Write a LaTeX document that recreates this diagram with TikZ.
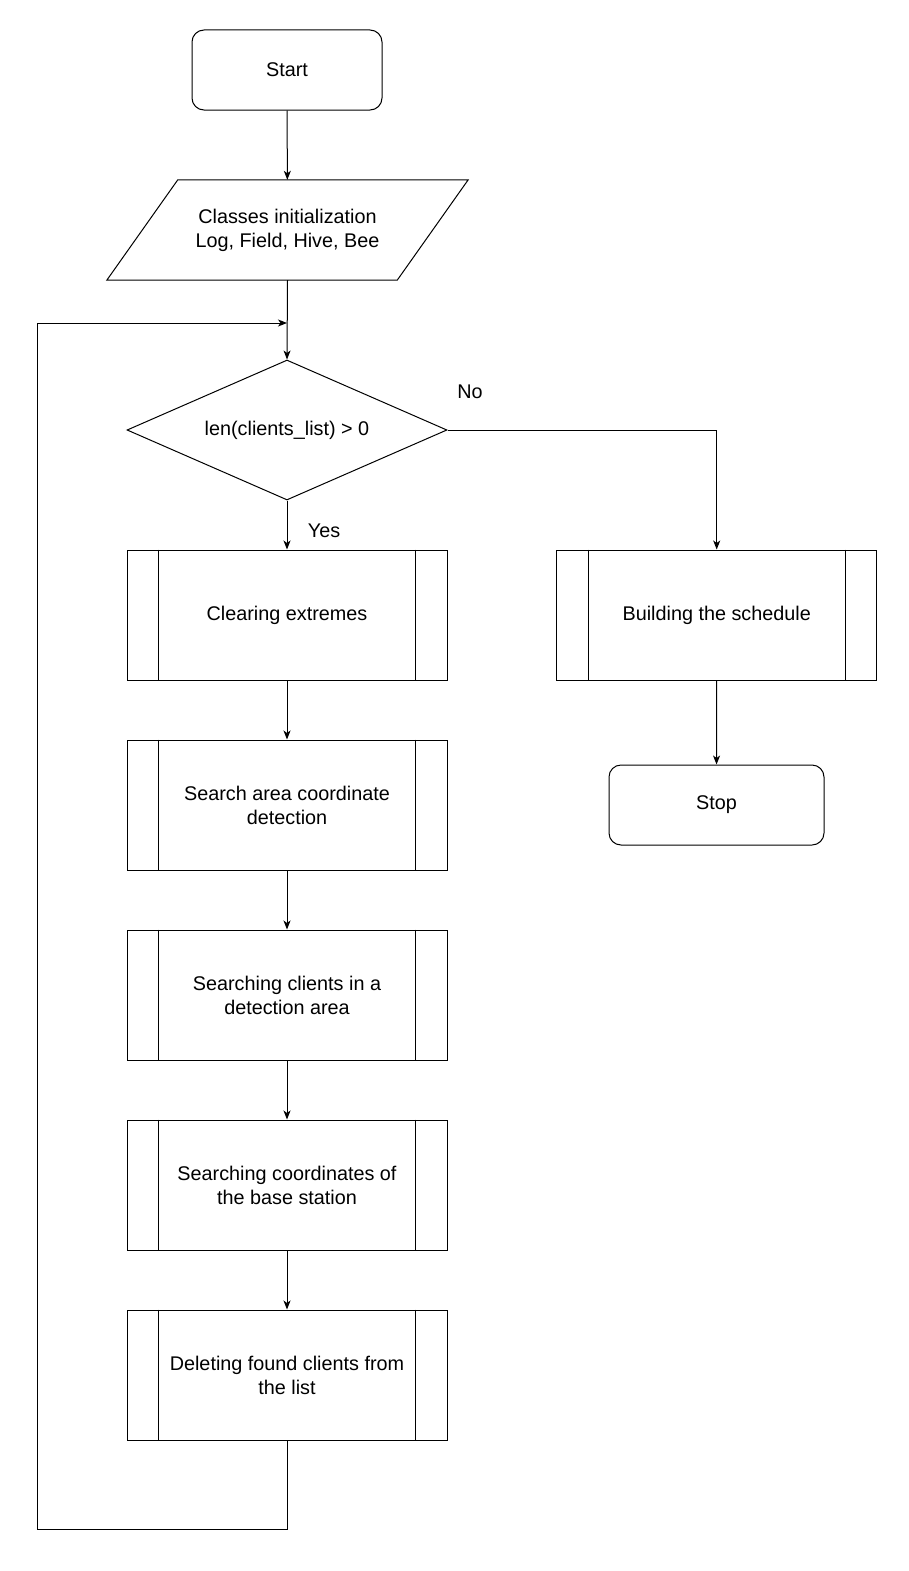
\documentclass[tikz,border=0pt]{standalone}
\usepackage{fontspec}
\setmainfont{Liberation Sans}
\usetikzlibrary{shapes.geometric,arrows.meta}
\newcommand{\fcfont}{\fontsize{19.8}{24}\selectfont}
\begin{document}
\begin{tikzpicture}[x=1pt,y=-1pt,
  every node/.style={font=\fcfont, inner sep=0pt},
  lw/.style={line width=1pt},
  term/.style={draw, lw, rounded corners=12pt, minimum width=190pt, minimum height=80pt},
  proc/.style={draw, lw, minimum width=320pt, minimum height=130pt, align=center},
  dec/.style={draw, lw, shape=diamond, aspect=2.2857, minimum width=320pt, minimum height=140pt},
  arr/.style={lw, -{Stealth[length=9pt,width=7pt,inset=2.5pt]}},
  lbl/.style={font=\fcfont}
]
\useasboundingbox[fill=white] (0,0) rectangle (908,1571);

\node[term] (start) at (287,70) {Start};
\node[minimum width=290pt, minimum height=100pt, align=center] (init) at (287.5,230) {Classes initialization\\Log, Field, Hive, Bee};
\draw[lw] ([xshift=35.5pt]init.north west) -- ([xshift=35.5pt]init.north east)
  -- ([xshift=-35.5pt]init.south east) -- ([xshift=-35.5pt]init.south west) -- cycle;
\node[dec] (cond) at (287,430) {len(clients\_list) > 0};

\node[proc] (b1) at (287,615) {Clearing extremes};
\node[proc] (b2) at (287,805) {Search area coordinate\\detection};
\node[proc] (b3) at (287,995) {Searching clients in a\\detection area};
\node[proc] (b4) at (287,1185) {Searching coordinates of\\the base station};
\node[proc] (b5) at (287,1375) {Deleting found clients from\\the list};
\node[proc] (bs) at (716.7,615) {Building the schedule};
\node[term, minimum width=215pt] (stop) at (716.5,805) {Stop};

\foreach \n in {b1,b2,b3,b4,b5,bs}{
  \draw[lw] ([xshift=32pt]\n.north west) -- ([xshift=32pt]\n.south west);
  \draw[lw] ([xshift=-32pt]\n.north east) -- ([xshift=-32pt]\n.south east);
}

\node[lbl] (no) at (470,392) {No};
\node[lbl] (yes) at (324,531) {Yes};

\draw[arr] (start) -- (init);
\draw[arr] (init.south) -- (cond.north);
\draw[arr] (cond.south) -- (b1.north);
\draw[arr] (b1) -- (b2);
\draw[arr] (b2) -- (b3);
\draw[arr] (b3) -- (b4);
\draw[arr] (b4) -- (b5);
\draw[arr] (cond.east) -| (bs.north);
\draw[arr] (bs) -- (stop);

\coordinate (lb) at (287,1529);
\coordinate (lbl) at (37,1529);
\coordinate (ltl) at (37,323);
\coordinate (loopin) at (287,323);
\draw[arr] (b5.south) -- (lb) -- (lbl) -- (ltl) -- (loopin);
\end{tikzpicture}
\end{document}
